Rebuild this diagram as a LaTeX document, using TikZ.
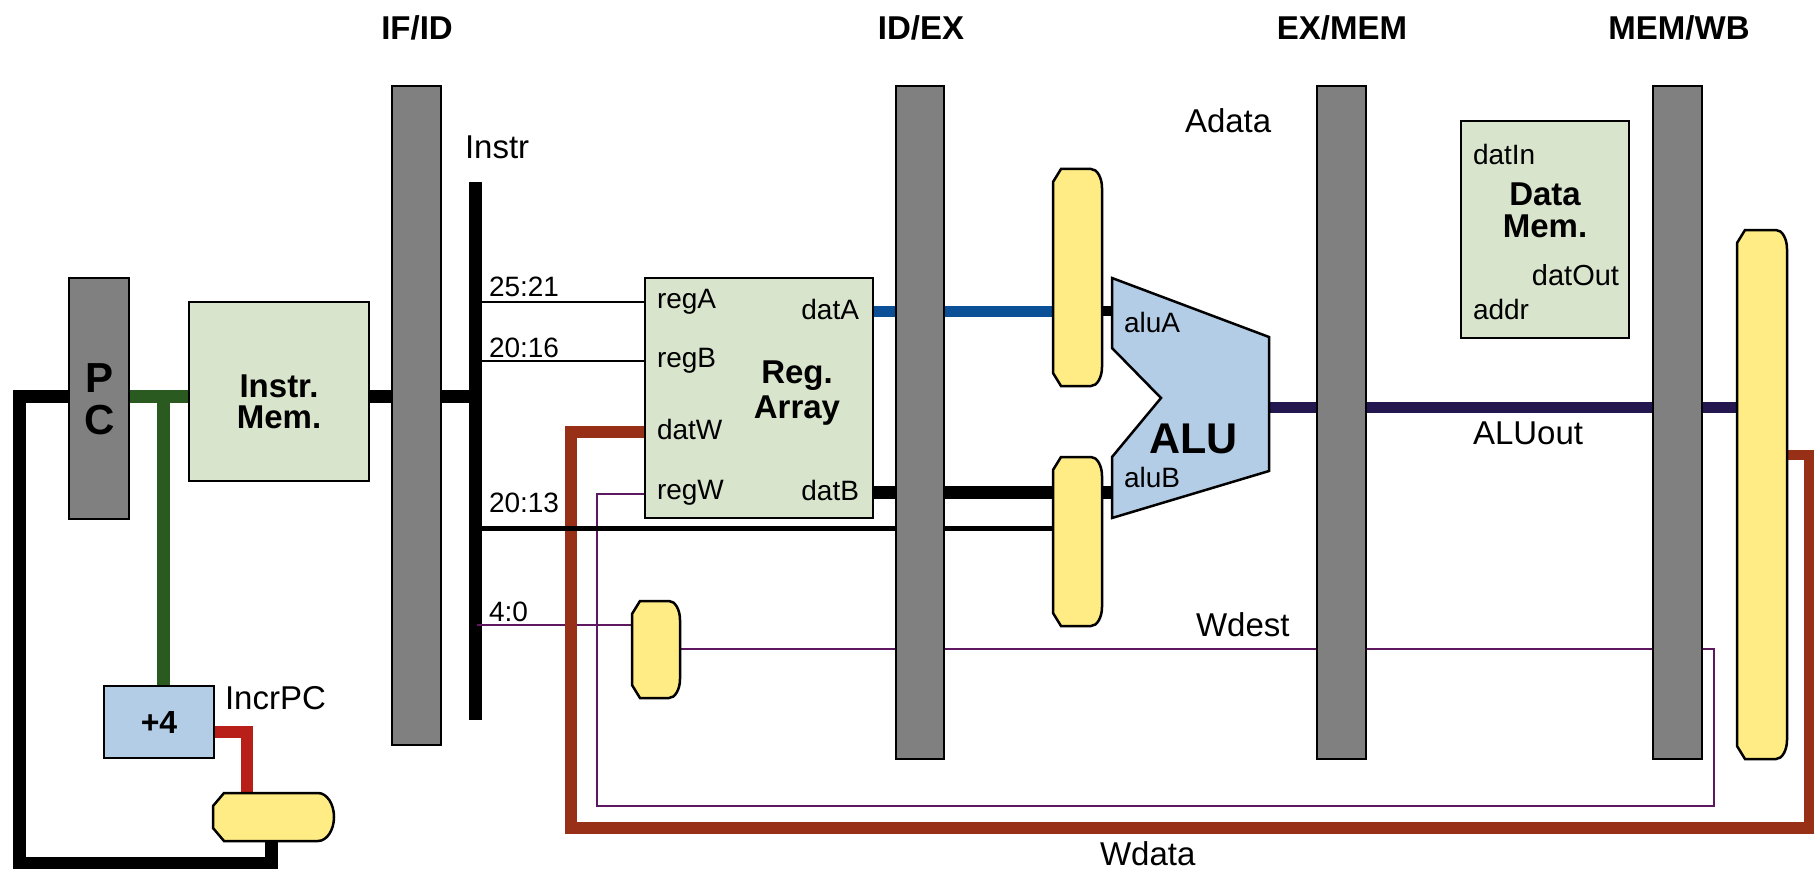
\documentclass[tikz,border=0pt]{standalone}
\usepackage{fontspec}
\setmainfont{Liberation Sans}
\pgfdeclarelayer{wires}
\pgfsetlayers{wires,main}
\definecolor{latchgray}{HTML}{808080}
\definecolor{memgreen}{HTML}{D8E4CC}
\definecolor{alublue}{HTML}{B4CDE6}
\definecolor{muxyellow}{HTML}{FFEC85}
\definecolor{wgreen}{HTML}{2A5A20}
\definecolor{wred}{HTML}{B81F18}
\definecolor{wbrown}{HTML}{983018}
\definecolor{wblue}{HTML}{0B4F96}
\definecolor{wpurple}{HTML}{5E1860}
\definecolor{wnavy}{HTML}{24174F}
\newdimen\mxL \newdimen\mxR \newdimen\mxB \newdimen\mxT
\makeatletter
% #1 name, #2/#3 left chamfer x/y, #4/#5 right corner x/y
\newcommand{\declaremuxshape}[5]{%
\pgfdeclareshape{#1}{%
  \inheritsavedanchors[from=rectangle]%
  \inheritanchorborder[from=rectangle]%
  \inheritanchor[from=rectangle]{center}%
  \inheritanchor[from=rectangle]{north}%
  \inheritanchor[from=rectangle]{south}%
  \inheritanchor[from=rectangle]{east}%
  \inheritanchor[from=rectangle]{west}%
  \backgroundpath{%
    \southwest \mxL=\pgf@x \mxB=\pgf@y
    \northeast \mxR=\pgf@x \mxT=\pgf@y
    \pgfpathmoveto{\pgfpoint{\mxL+#2pt}{\mxT}}%
    \pgfpathlineto{\pgfpoint{\mxR-#4pt}{\mxT}}%
    \pgfpathcurveto{\pgfpoint{\mxR-0.45*#4pt}{\mxT}}{\pgfpoint{\mxR}{\mxT-0.45*#5pt}}{\pgfpoint{\mxR}{\mxT-#5pt}}%
    \pgfpathlineto{\pgfpoint{\mxR}{\mxB+#5pt}}%
    \pgfpathcurveto{\pgfpoint{\mxR}{\mxB+0.45*#5pt}}{\pgfpoint{\mxR-0.45*#4pt}{\mxB}}{\pgfpoint{\mxR-#4pt}{\mxB}}%
    \pgfpathlineto{\pgfpoint{\mxL+#2pt}{\mxB}}%
    \pgfpathlineto{\pgfpoint{\mxL}{\mxB+#3pt}}%
    \pgfpathlineto{\pgfpoint{\mxL}{\mxT-#3pt}}%
    \pgfpathclose
  }%
}}
\makeatother
\declaremuxshape{muxv}{8}{13}{11}{19}
\declaremuxshape{muxh}{11}{13}{16}{24}
\tikzset{
  x=1pt,y=-1pt,
  boxat/.style n args={4}{at={({(#1+#3)/2},{(#2+#4)/2})},minimum width={(#3-#1)*1pt},minimum height={(#4-#2)*1pt}},
  blockbase/.style={rectangle,draw=black,line width=2.5pt,inner sep=0pt,outer sep=0pt},
  latch/.style={blockbase,fill=latchgray},
  membox/.style={blockbase,fill=memgreen},
  addbox/.style={blockbase,fill=alublue},
  muxbox/.style={shape=muxv,draw=black,line width=2.5pt,fill=muxyellow,inner sep=0pt,outer sep=0pt},
  muxflat/.style={muxbox,shape=muxh},
  port/.style={inner sep=0pt,outer sep=0pt,font=\fontsize{28}{30}\selectfont},
  lab/.style={inner sep=0pt,outer sep=0pt,anchor=base west,font=\fontsize{33}{35}\selectfont},
  stage/.style={inner sep=0pt,anchor=center,font=\bfseries\fontsize{33}{35}\selectfont},
  title/.style={inner sep=0pt,anchor=base,align=center,font=\bfseries\fontsize{33}{33}\selectfont},
  thin wire/.style={line width=2.5pt,draw=black},
  purplew/.style={line width=2.5pt,draw=wpurple},
  thickw/.style={line width=13pt,draw=black},
  brownw/.style={line width=12pt,draw=wbrown},
}
\begin{document}
\begin{tikzpicture}
\useasboundingbox (0,0) rectangle (1814,869);
% latches
\node[latch,boxat={69}{278}{129}{519}] (pc) {};
\node[latch,boxat={392}{86}{441}{745}] (ifid) {};
\node[latch,boxat={896}{86}{944}{759}] (idex) {};
\node[latch,boxat={1317}{86}{1366}{759}] (exmem) {};
\node[latch,boxat={1653}{86}{1702}{759}] (memwb) {};
% blocks
\node[membox,boxat={189}{302}{369}{481}] (imem) {};
\node[membox,boxat={645}{278}{873}{518}] (regs) {};
\node[membox,boxat={1461}{121}{1629}{338}] (dmem) {};
\node[addbox,boxat={104}{686}{214}{758}] (incr) {};
% muxes
\node[muxflat,boxat={213}{793}{334}{841}] (muxpc) {};
\node[muxbox,boxat={632}{601}{680}{698}] (muxw) {};
\node[muxbox,boxat={1053}{169}{1102}{386}] (muxa) {};
\node[muxbox,boxat={1053}{457}{1102}{626}] (muxb) {};
\node[muxbox,boxat={1737}{230}{1787}{759}] (muxwb) {};
% ALU
\draw[fill=alublue,line width=2.5pt,line join=miter]
  (1112,278) -- (1269,337) -- (1269,471) -- (1112,518) -- (1112,457) -- (1161,398) -- (1112,348) -- cycle;
\coordinate (alua) at (1112,311);
\coordinate (alub) at (1112,492);
\coordinate (aluo) at (1269,407);
% instruction bus and wire corners
\begin{pgfonlayer}{wires}
\node[rectangle,fill=black,inner sep=0pt,outer sep=0pt,boxat={469}{182}{482}{720}] (bus) {};
% purple
\draw[purplew] (477,625) -- (muxw.west |- 0,625);
\draw[purplew] (regs.west |- 0,494) -- (597,494) -- (597,806) -- (1714,806) -- (1714,649) -- (muxw.east |- 0,649);
% brown
\draw[brownw,line join=miter] (regs.west |- 0,432) -- (571,432) -- (571,828) -- (1814,828);
\draw[line width=10pt,draw=wbrown,line join=miter] (1809,834) -- (1809,455) -- (muxwb.east |- 0,455);
% black
\draw[thin wire] (bus.east |- 0,302) -- (regs.west |- 0,302);
\draw[thin wire] (bus.east |- 0,361) -- (regs.west |- 0,361);
\draw[line width=5pt,draw=black] (bus.east |- 0,528) -- (muxb.west |- 0,528);
\draw[thickw] (imem.east |- 0,396) -- (bus.center |- 0,396);
\draw[thickw] (pc.west |- 0,396) -- (19,396) -- (19,863) -- (271,863) -- (muxpc.south -| 271,0);
\draw[thickw] (regs.east |- 0,492) -- (muxb.west |- 0,492);
\draw[thickw] (muxb.east |- 0,492) -- (alub);
\draw[line width=10pt,draw=black] (muxa.east |- 0,311) -- (alua);
% coloured
\draw[line width=13pt,draw=wgreen] (pc.east |- 0,396) -- (imem.west |- 0,396);
\draw[line width=13pt,draw=wgreen] (163,396) -- (incr.north -| 163,0);
\draw[line width=12pt,draw=wred] (incr.east |- 0,732) -- (247,732) -- (muxpc.north -| 247,0);
\draw[line width=11pt,draw=wblue] (regs.east |- 0,311) -- (muxa.west |- 0,311);
\draw[line width=11pt,draw=wnavy] (aluo) -- (muxwb.west |- 0,407);
\end{pgfonlayer}
% stage titles
\node[stage] (t1) at (417,28) {IF/ID};
\node[stage] (t2) at (921,28) {ID/EX};
\node[stage] (t3) at (1342,28) {EX/MEM};
\node[stage] (t4) at (1679,28) {MEM/WB};
% block titles
\node[title,font=\bfseries\fontsize{42}{41.5}\selectfont] (tpc) at (100,434) {P\\C};
\node[title,font=\bfseries\fontsize{33}{31}\selectfont] (timem) at (279,428) {Instr.\\Mem.};
\node[title,font=\bfseries\fontsize{33}{35}\selectfont] (tregs) at (797,418) {Reg.\\Array};
\node[title,font=\bfseries\fontsize{33}{32}\selectfont] (tdmem) at (1545,237) {Data\\Mem.};
\node[title,font=\bfseries\fontsize{32}{34}\selectfont] (tincr) at (159,733) {+4};
\node[inner sep=0pt,anchor=base west,font=\bfseries\fontsize{43}{45}\selectfont] (talu) at (1149,453) {ALU};
% ports
\node[port,anchor=base west] (pa) at (657,308) {regA};
\node[port,anchor=base west] (pb) at (657,367) {regB};
\node[port,anchor=base west] (pw) at (657,439) {datW};
\node[port,anchor=base west] (pr) at (657,499) {regW};
\node[port,anchor=base east] (pda) at (859,319) {datA};
\node[port,anchor=base east] (pdb) at (859,500) {datB};
\node[port,anchor=base west] (w1) at (489,296) {25:21};
\node[port,anchor=base west] (w2) at (489,357) {20:16};
\node[port,anchor=base west] (w3) at (489,512) {20:13};
\node[port,anchor=base west] (w4) at (489,621) {4:0};
\node[port,anchor=base west] (aa) at (1124,332) {aluA};
\node[port,anchor=base west] (ab) at (1124,487) {aluB};
\node[port,anchor=base west] (di) at (1473,165) {datIn};
\node[port,anchor=base east,font=\fontsize{29}{30}\selectfont] (dq) at (1619,285) {datOut};
\node[port,anchor=base west] (da) at (1473,319) {addr};
% wire labels
\node[lab] (l1) at (465,159) {Instr};
\node[lab] (l2) at (1185,133) {Adata};
\node[lab] (l3) at (1196,636) {Wdest};
\node[lab] (l4) at (1473,444) {ALUout};
\node[lab] (l5) at (1100,865) {Wdata};
\node[lab] (l6) at (225,709) {IncrPC};
\end{tikzpicture}
\end{document}
